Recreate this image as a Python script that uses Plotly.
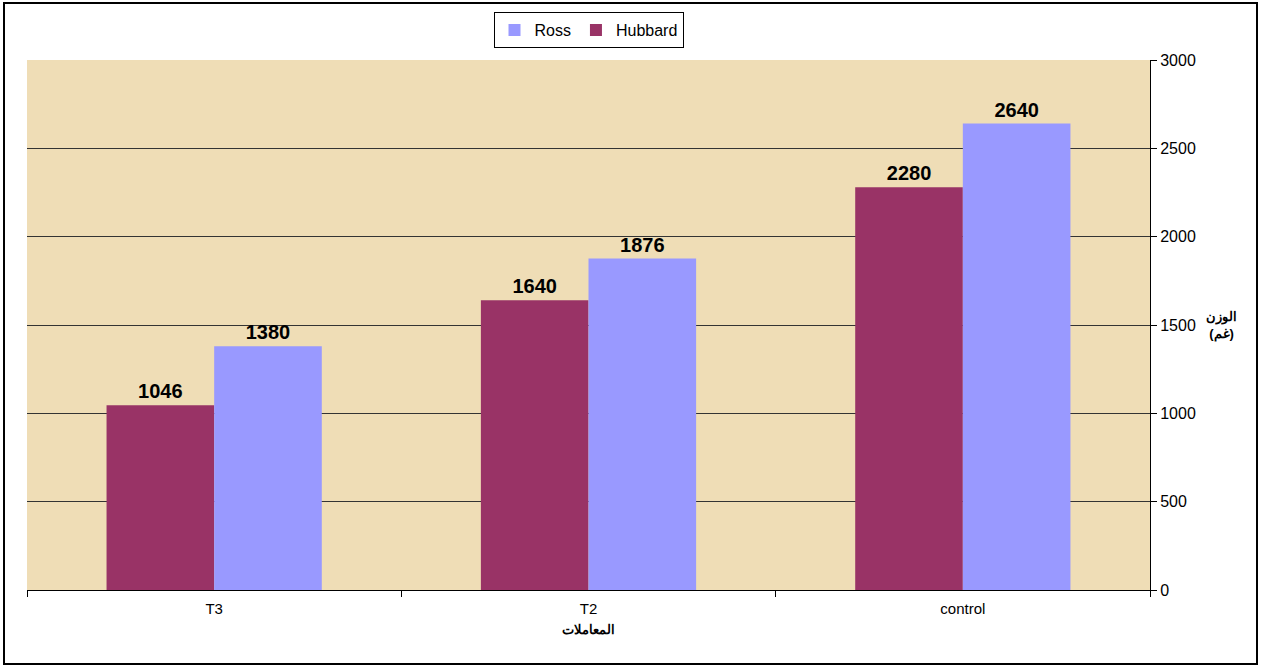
import plotly.graph_objects as go

categories = ["T3", "T2", "control"]
hubbard = [1046, 1640, 2280]
ross = [1380, 1876, 2640]
y_ticks = [0, 500, 1000, 1500, 2000, 2500, 3000]

W, H = 1261, 668
L, R, T, B = 27, 111, 60, 78
pw, ph = W - L - R, H - T - B

label_font = dict(family="Liberation Sans, Arial", size=20, color="black")

fig = go.Figure()
fig.add_trace(go.Bar(x=categories, y=hubbard, name="Hubbard", marker_color="#993366",
                     marker_line_width=0, text=[f"<b>{v}</b>" for v in hubbard],
                     textposition="outside", textfont=label_font, cliponaxis=False))
fig.add_trace(go.Bar(x=categories, y=ross, name="Ross", marker_color="#9999FF",
                     marker_line_width=0, text=[f"<b>{v}</b>" for v in ross],
                     textposition="outside", textfont=label_font, cliponaxis=False))

def px_x(p):
    return (p - L) / pw

def px_y(p):
    return (H - B - p) / ph

fig.update_layout(
    width=W, height=H,
    margin=dict(l=L, r=R, t=T, b=B),
    paper_bgcolor="white",
    plot_bgcolor="#EFDDB6",
    barmode="group",
    bargap=0.425,
    bargroupgap=0,
    font=dict(family="Liberation Sans, Arial", size=13, color="black"),
    showlegend=True,
    legend=dict(orientation="h", traceorder="reversed", x=0.5, xanchor="center",
                y=px_y(12), yanchor="top", bordercolor="black", borderwidth=1,
                bgcolor="white", font=dict(size=16), itemwidth=30,
                tracegroupgap=0, itemsizing="constant"),
    xaxis=dict(showgrid=False, ticks="outside", tickson="boundaries", ticklen=6,
               tickcolor="black", showline=True, linecolor="black", linewidth=1,
               tickfont=dict(size=15), ticklabelstandoff=5,
               title=dict(text="<b>المعاملات</b>", font=dict(size=13), standoff=8)),
    yaxis=dict(side="right", range=[0, 3000], tickvals=y_ticks, showgrid=True,
               gridcolor="#333333", gridwidth=1, ticks="outside", ticklen=6,
               tickcolor="black", showline=True, linecolor="black", linewidth=1,
               tickfont=dict(size=16), zeroline=False),
    annotations=[dict(text="<b>الوزن<br>(غم)</b>", xref="paper", yref="paper",
                      x=px_x(1221), y=px_y(325), xanchor="center", yanchor="middle",
                      showarrow=False, font=dict(size=13), align="center")],
    shapes=[dict(type="rect", xref="paper", yref="paper",
                 x0=px_x(4), x1=px_x(1257), y0=px_y(664), y1=px_y(3),
                 line=dict(color="black", width=2), layer="below")],
)

fig.write_html("out.html")
